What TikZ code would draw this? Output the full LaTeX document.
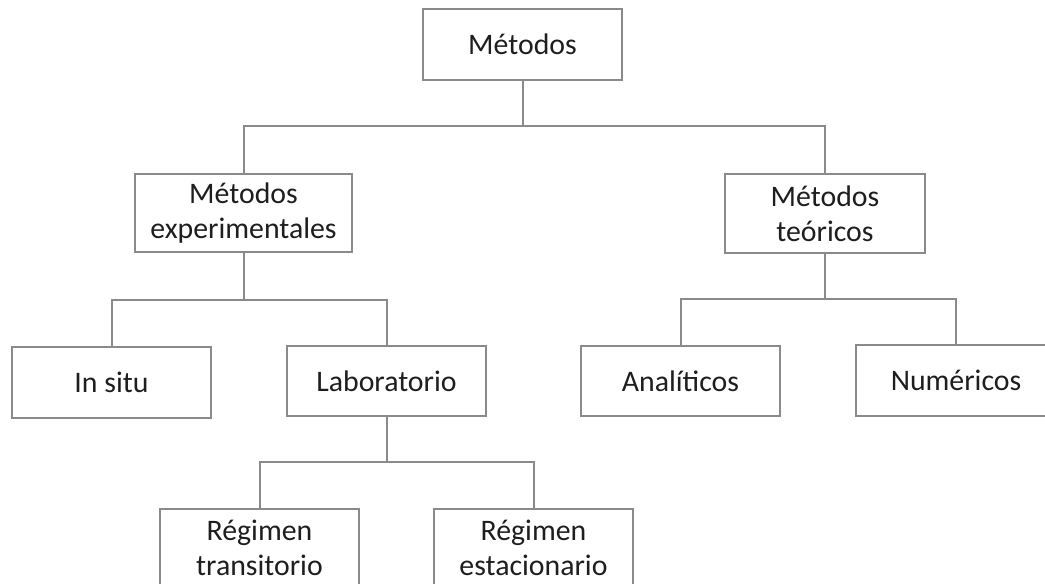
\documentclass[tikz,border=0pt]{standalone}
\usepackage{fontspec}
\setmainfont{Carlito}
\definecolor{linegray}{HTML}{8A8A8A}
\definecolor{textdark}{HTML}{1E1E1E}
\begin{document}
\begin{tikzpicture}[x=0.5pt,y=-0.5pt,
  box/.style={draw=linegray,line width=1pt,fill=white,inner sep=0pt,align=center,
    text=textdark,font=\fontsize{14.9}{17.5}\selectfont},
  link/.style={draw=linegray,line width=1pt}]
\useasboundingbox (0,0) rectangle (1045,584);
\clip (0,0) rectangle (1045,584);
\fill[white] (0,0) rectangle (1045,584);
\node[box,minimum width=99.5pt,minimum height=35.5pt] (m) at (522.5,44.5) {Métodos};
\node[box,minimum width=108.5pt,minimum height=39pt] (exp) at (243.5,213) {Métodos\\experimentales};
\node[box,minimum width=100pt,minimum height=39.5pt] (teo) at (825,213.5) {Métodos\\teóricos};
\node[box,minimum width=99.5pt,minimum height=35.5pt] (insitu) at (111.5,382.5) {In situ};
\node[box,minimum width=99.5pt,minimum height=35pt] (lab) at (386.5,381) {Laboratorio};
\node[box,minimum width=99.5pt,minimum height=35pt] (ana) at (680.5,381) {Analíticos};
\node[box,minimum width=100pt,minimum height=35.5pt] (num) at (956,380.5) {Numéricos};
\node[box,minimum width=99.5pt,minimum height=39pt] (rt) at (259.5,548) {Régimen\\transitorio};
\node[box,minimum width=99.5pt,minimum height=39pt] (re) at (533.5,548) {Régimen\\estacionario};
\coordinate (b1) at (0,126);
\coordinate (b2) at (0,300);
\coordinate (b3) at (0,299);
\coordinate (b4) at (0,462);
\draw[link] (m.south) -- (m.south |- b1);
\draw[link] (exp.north) |- (b1 -| teo.north) -- (teo.north);
\draw[link] (exp.south) -- (exp.south |- b2);
\draw[link] (insitu.north) |- (b2 -| lab.north) -- (lab.north);
\draw[link] (teo.south) -- (teo.south |- b3);
\draw[link] (ana.north) |- (b3 -| num.north) -- (num.north);
\draw[link] (lab.south) -- (lab.south |- b4);
\draw[link] (rt.north) |- (b4 -| re.north) -- (re.north);
\end{tikzpicture}
\end{document}
